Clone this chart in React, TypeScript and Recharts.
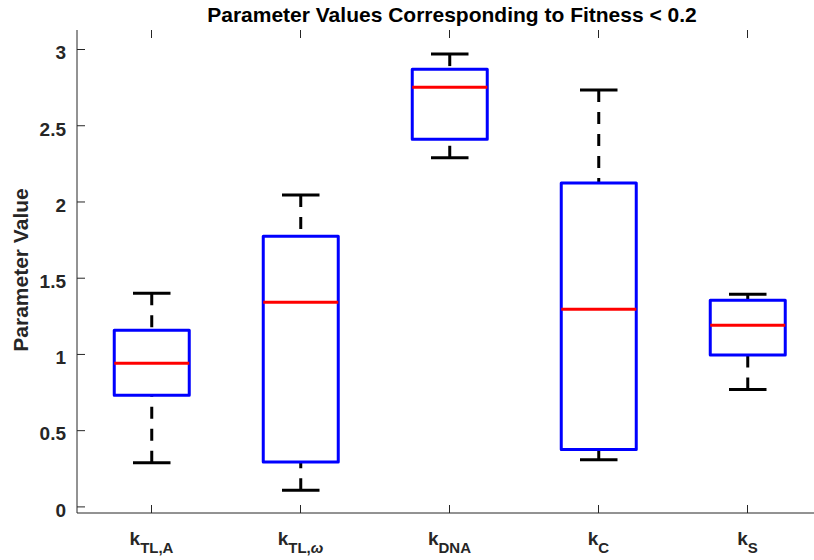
import { ComposedChart, Bar, XAxis, YAxis } from "recharts";

// Parameter names (drawn as k with a subscript) and the box statistics for each
const paramSubscripts = ["TL,A", "TL,ω", "DNA", "C", "S"];
const whiskerLow = [0.29, 0.11, 2.29, 0.31, 0.77];
const quartile1 = [0.733, 0.295, 2.412, 0.377, 0.996];
const medians = [0.943, 1.343, 2.753, 1.296, 1.192];
const quartile3 = [1.159, 1.776, 2.871, 2.124, 1.356];
const whiskerHigh = [1.402, 2.045, 2.97, 2.734, 1.395];
const yTicks = [0, 0.5, 1, 1.5, 2, 2.5, 3];
const yTickLabels = ["0", "0.5", "1", "1.5", "2", "2.5", "3"];

const data = paramSubscripts.map((sub, i) => ({
  sub,
  lo: whiskerLow[i],
  q1: quartile1[i],
  med: medians[i],
  q3: quartile3[i],
  hi: whiskerHigh[i],
}));

const W = 830;
const H = 560;
const PLOT_LEFT = 77;
const PLOT_TOP = 30;
const PLOT_RIGHT = 822;
const PLOT_BOTTOM = 513;
const Y_MIN = -0.04;
const Y_MAX = 3.128;
const AXIS = "#262626";
const FONT = "'Liberation Sans', Arial, Helvetica, sans-serif";
const TICK_LEN = 8;

// whiskers, caps, box and median for one category
function BoxShape(props: any) {
  const { x, y, width, height, payload } = props;
  const top = Math.min(y, y + height);
  const h = Math.abs(height);
  const span = payload.hi - payload.lo;
  const py = (v: number) => top + ((payload.hi - v) / span) * h;
  const cx = x + width / 2;
  const capHalf = width / 4;
  return (
    <g>
      <line x1={cx} x2={cx} y1={py(payload.hi)} y2={py(payload.q3)} stroke="#000" strokeWidth={3} strokeDasharray="12 10" />
      <line x1={cx} x2={cx} y1={py(payload.lo)} y2={py(payload.q1)} stroke="#000" strokeWidth={3} strokeDasharray="12 10" />
      <line x1={cx - capHalf} x2={cx + capHalf} y1={py(payload.hi)} y2={py(payload.hi)} stroke="#000" strokeWidth={3} />
      <line x1={cx - capHalf} x2={cx + capHalf} y1={py(payload.lo)} y2={py(payload.lo)} stroke="#000" strokeWidth={3} />
      <rect
        x={x}
        y={py(payload.q3)}
        width={width}
        height={py(payload.q1) - py(payload.q3)}
        fill="none"
        stroke="#0000ff"
        strokeWidth={3}
        strokeLinejoin="round"
      />
      <line x1={x} x2={x + width} y1={py(payload.med)} y2={py(payload.med)} stroke="#ff0000" strokeWidth={3} />
    </g>
  );
}

function YTick(props: any) {
  const { y, payload } = props;
  const idx = yTicks.indexOf(payload.value);
  return (
    <g>
      <line x1={PLOT_LEFT} x2={PLOT_LEFT + TICK_LEN} y1={y} y2={y} stroke={AXIS} />
      <line x1={PLOT_RIGHT - TICK_LEN} x2={PLOT_RIGHT} y1={y} y2={y} stroke={AXIS} />
      <text x={PLOT_LEFT - 11} y={y + 9.8} textAnchor="end" fontFamily={FONT} fontWeight="bold" fontSize={19} fill={AXIS}>
        {idx >= 0 ? yTickLabels[idx] : payload.value}
      </text>
    </g>
  );
}

function XTick(props: any) {
  const { x, payload } = props;
  const sub: string = payload.value;
  const parts = sub.split("ω");
  return (
    <g>
      <line x1={x} x2={x} y1={PLOT_BOTTOM} y2={PLOT_BOTTOM - TICK_LEN} stroke={AXIS} />
      <line x1={x} x2={x} y1={PLOT_TOP} y2={PLOT_TOP + TICK_LEN} stroke={AXIS} />
      <text x={x} y={545} textAnchor="middle" fontFamily={FONT} fontWeight="bold" fontSize={19} fill={AXIS}>
        <tspan>k</tspan>
        <tspan dy={8} fontSize={15}>{parts[0]}</tspan>
        {parts.length > 1 && (
          <tspan fontSize={15} fontStyle="italic">ω</tspan>
        )}
      </text>
    </g>
  );
}

export default function App() {
  return (
    <div style={{ position: "absolute", left: 0, top: 0, width: 814, height: 560, overflow: "hidden", background: "#fff" }}>
      <ComposedChart
        width={W}
        height={H}
        data={data}
        margin={{ top: PLOT_TOP, right: W - PLOT_RIGHT, left: PLOT_LEFT - 60, bottom: H - PLOT_BOTTOM - 40 }}
        barCategoryGap="25%"
      >
        <XAxis dataKey="sub" height={40} interval={0} tickLine={false} axisLine={{ stroke: AXIS }} tick={<XTick />} />
        <XAxis xAxisId="top" orientation="top" dataKey="sub" height={0} tick={false} tickLine={false} axisLine={{ stroke: AXIS }} />
        <YAxis
          type="number"
          domain={[Y_MIN, Y_MAX]}
          ticks={yTicks}
          allowDataOverflow
          interval={0}
          width={60}
          tickLine={false}
          axisLine={{ stroke: AXIS }}
          tick={<YTick />}
        />
        <YAxis
          yAxisId="right"
          orientation="right"
          type="number"
          domain={[Y_MIN, Y_MAX]}
          allowDataOverflow
          width={0}
          tick={false}
          tickLine={false}
          axisLine={{ stroke: AXIS }}
        />
        <Bar dataKey={(d: any) => [d.lo, d.hi]} shape={<BoxShape />} isAnimationActive={false} />
      </ComposedChart>
      <svg width={814} height={560} style={{ position: "absolute", left: 0, top: 0, pointerEvents: "none" }}>
        <text x={452} y={21.5} textAnchor="middle" fontFamily={FONT} fontWeight="bold" fontSize={21} fill="#000">
          Parameter Values Corresponding to Fitness &lt; 0.2
        </text>
        <text
          x={28}
          y={270}
          transform="rotate(-90, 28, 270)"
          textAnchor="middle"
          fontFamily={FONT}
          fontWeight="bold"
          fontSize={21}
          fill={AXIS}
        >
          Parameter Value
        </text>
      </svg>
    </div>
  );
}
